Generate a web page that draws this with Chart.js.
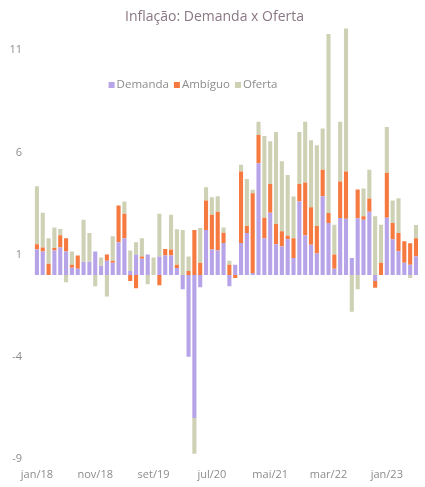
<!DOCTYPE html>
<html lang="pt">
<head>
  <meta charset="UTF-8" />
  <title>Inflação: Demanda x Oferta</title>
  <style>
    html, body { margin: 0; padding: 0; background: #fff; }
    #wrap { width: 425px; height: 487px; }
  </style>
</head>
<body>
  <div id="wrap"><canvas id="grafico"></canvas></div>

  <script src="https://cdn.jsdelivr.net/npm/chart.js@4.4.0/dist/chart.umd.min.js"></script>
  <script>
    const meses = [
      "jan/18","fev/18","mar/18","abr/18","mai/18","jun/18","jul/18","ago/18","set/18","out/18","nov/18","dez/18",
      "jan/19","fev/19","mar/19","abr/19","mai/19","jun/19","jul/19","ago/19","set/19","out/19","nov/19","dez/19",
      "jan/20","fev/20","mar/20","abr/20","mai/20","jun/20","jul/20","ago/20","set/20","out/20","nov/20","dez/20",
      "jan/21","fev/21","mar/21","abr/21","mai/21","jun/21","jul/21","ago/21","set/21","out/21","nov/21","dez/21",
      "jan/22","fev/22","mar/22","abr/22","mai/22","jun/22","jul/22","ago/22","set/22","out/22","nov/22","dez/22",
      "jan/23","fev/23","mar/23","abr/23","mai/23","jun/23"
    ];

    const demanda = [
      1.25, 1.15, 0, 1.2, 1.35, 1.15, 0.35, 0.3, 0.65, 0.65, 1.15, 0.45,
      0.7, 0.6, 1.6, 1.8, 0.2, 1.0, 0.8, 1.0, 0, 0.9, 0.95, 0.95,
      0.34, -0.7, -4.0, -7.0, -0.6, 2.2, 1.25, 1.2, 1.57, -0.55, 0.5, 1.57,
      2.05, 0.1, 5.47, 1.8, 3.05, 1.5, 1.4, 1.75, 0.83, 3.6, 1.93, 1.48,
      1.05, 3.85, 2.54, 0.3, 2.79, 2.75, 0.83, 2.78, 2.7, 3.1, -0.3, 0,
      2.8, 1.75, 1.16, 0.6, 0.5, 0.9
    ];
    const ambiguo = [
      0.25, 0.2, 0.55, 0.12, 0.6, 0.65, 0.15, 0.65, 0, 0, 0, 0,
      0.3, 0.1, 1.8, 1.2, -0.3, -0.65, 0.1, 0, 0, -0.5, 0.32, 0.3,
      0.16, 0, 0.2, 2.2, 0.6, 1.45, 1.7, 1.9, 0.5, 0.5, -0.15, 3.5,
      0.35, 3.9, 1.38, 1.0, 1.4, 1.0, 0.74, 0.17, 0.97, 0.85, 2.6, 1.84,
      1.35, 1.3, 0.49, 0.7, 1.79, 2.32, 0, 1.4, 0.17, 0.65, -0.33, 0.6,
      2.2, 0.8, 0.9, 1.05, 1.05, 0.9
    ];
    const oferta = [
      2.85, 1.7, 1.25, 1.0, 0.3, -0.35, 0.65, 0, 2.05, 1.4, -0.55, 0.4,
      -1.05, 1.2, 0, 0.6, 1.0, 0.6, 0.9, -0.45, 0.85, 2.1, 0, 1.7,
      1.74, 2.2, 0.7, -1.75, 1.7, 0.65, 0.85, 0.75, 0.25, 0.2, 0, 0.33,
      2.3, 0.17, 0.65, 4.0, 2.1, 4.5, 3.43, 2.98, 2.04, 2.55, 2.97, 3.28,
      3.95, 2.02, 8.77, 1.46, 2.92, 7.0, -1.8, -0.7, 1.37, 1.4, 2.87, 1.86,
      2.25, 1.1, 1.7, 0, -0.15, 0.65
    ];

    const yTicks = [-9, -4, 1, 6, 11];
    const cada = 10; // um rótulo a cada 10 meses

    const corTexto = "#8c8c8c";

    // legenda desenhada dentro da área do gráfico
    const legendaDentro = {
      id: "legendaDentro",
      afterDraw(chart, args, opts) {
        const ctx = chart.ctx;
        ctx.save();
        ctx.font = opts.font;
        ctx.textBaseline = "middle";
        const itens = chart.data.datasets.map(d => ({ texto: d.label, cor: d.backgroundColor }));
        let total = 0;
        itens.forEach(it => {
          it.w = opts.box + opts.gap + ctx.measureText(it.texto).width;
          total += it.w;
        });
        total += opts.spacing * (itens.length - 1);
        let x = opts.centerX - total / 2;
        itens.forEach(it => {
          ctx.fillStyle = it.cor;
          ctx.fillRect(x, opts.y - opts.box / 2, opts.box, opts.box);
          ctx.fillStyle = opts.color;
          ctx.fillText(it.texto, x + opts.box + opts.gap, opts.y);
          x += it.w + opts.spacing;
        });
        ctx.restore();
      }
    };

    new Chart(document.getElementById("grafico"), {
      type: "bar",
      data: {
        labels: meses,
        datasets: [
          { label: "Demanda", data: demanda, backgroundColor: "#b7a3e8" },
          { label: "Ambíguo", data: ambiguo, backgroundColor: "#f6793f" },
          { label: "Oferta", data: oferta, backgroundColor: "#cfd1b4" }
        ]
      },
      options: {
        responsive: true,
        maintainAspectRatio: false,
        animation: false,
        devicePixelRatio: 1,
        layout: { padding: { left: 6, right: 2, top: 0, bottom: -3 } },
        datasets: { bar: { categoryPercentage: 0.9, barPercentage: 0.78 } },
        plugins: {
          legend: { display: false },
          tooltip: { enabled: false },
          title: {
            display: true,
            text: "Inflação: Demanda x Oferta",
            color: "#8a7784",
            font: { family: "'Open Sans', sans-serif", size: 14, weight: "normal" },
            padding: { top: 9, bottom: 0 }
          },
          legendaDentro: {
            font: "11.5px 'Open Sans', sans-serif",
            color: corTexto,
            box: 6, gap: 2, spacing: 5,
            centerX: 193, y: 85
          }
        },
        scales: {
          x: {
            stacked: true,
            grid: { display: false, drawTicks: false },
            border: { display: false },
            ticks: {
              autoSkip: false,
              maxRotation: 0,
              padding: 9,
              color: corTexto,
              font: { family: "'Open Sans', sans-serif", size: 11 },
              callback: (v, i) => (i % cada === 0 ? meses[i] : "")
            }
          },
          y: {
            stacked: true,
            min: -9,
            max: 12.2,
            grid: { display: false, drawTicks: false },
            border: { display: false },
            afterBuildTicks: s => { s.ticks = yTicks.map(v => ({ value: v })); },
            afterFit: s => { s.width = 28; },
            ticks: {
              padding: 12,
              color: corTexto,
              font: { family: "'Open Sans', sans-serif", size: 11 }
            }
          }
        }
      },
      plugins: [legendaDentro]
    });
  </script>
</body>
</html>
